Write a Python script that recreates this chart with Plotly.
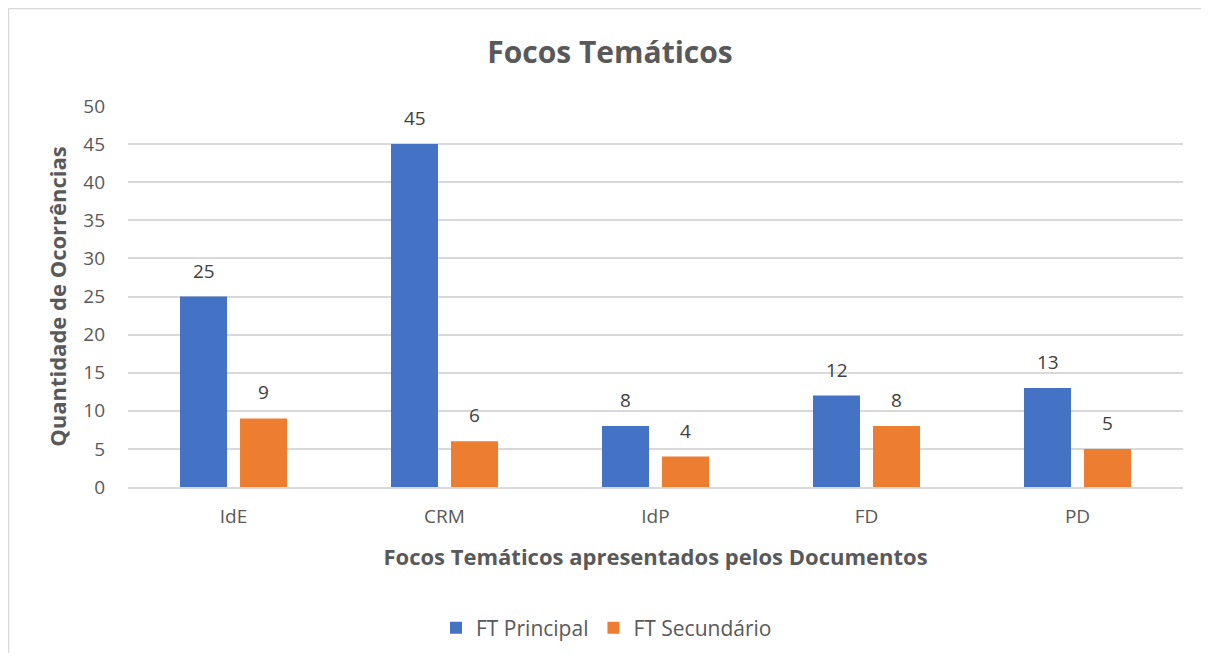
import plotly.graph_objects as go

categories = ["IdE", "CRM", "IdP", "FD", "PD"]
ft_principal = [25, 45, 8, 12, 13]
ft_secundario = [9, 6, 4, 8, 5]
series_names = ["FT Principal", "FT Secundário"]
colors = ["#4472C4", "#ED7D31"]
y_ticks = [0, 5, 10, 15, 20, 25, 30, 35, 40, 45, 50]

FONT = "Open Sans, Liberation Sans, sans-serif"
GRAY = "#595959"

OFF = 8  # page body margin
W, H = 1209 - 2 * OFF, 661 - 2 * OFF
L = 128 - OFF
R = W - (1183 - OFF)
T = 106 - OFF
B = H - (487 - OFF)
pw, ph = W - L - R, H - T - B

fig = go.Figure()
for name, vals, col in zip(series_names, [ft_principal, ft_secundario], colors):
    fig.add_trace(go.Bar(x=categories, y=vals, name=name, marker=dict(color=col, line=dict(width=0))))

annotations = []
for vals, shift in [(ft_principal, -30), (ft_secundario, 30)]:
    for c, v in zip(categories, vals):
        annotations.append(dict(x=c, y=v, xref="x", yref="y", text=str(v), showarrow=False,
                                xshift=shift, yshift=11, yanchor="bottom",
                                font=dict(family=FONT, size=19, color="#404040")))

def px_to_paper_x(px):
    return (px - OFF - L) / pw

def px_to_paper_y(py):
    return (H - B - (py - OFF)) / ph

border = dict(color="#d9d9d9", width=1.5)

fig.update_layout(
    width=W, height=H,
    margin=dict(l=L, r=R, t=T, b=B, autoexpand=False),
    paper_bgcolor="white", plot_bgcolor="white",
    title=dict(text="<b>Focos Temáticos</b>", x=px_to_paper_x(610), xref="paper", xanchor="center",
               y=1 - (52 - OFF) / H, yanchor="middle",
               font=dict(family=FONT, size=30, color=GRAY)),
    barmode="group", bargap=0.431, bargroupgap=0.217,
    font=dict(family=FONT, color=GRAY),
    xaxis=dict(showgrid=False, showline=True, linecolor="#d9d9d9", linewidth=1.5, ticks="",
               ticklabelstandoff=11,
               tickfont=dict(family=FONT, size=19, color=GRAY),
               title=dict(text="<b>Focos Temáticos apresentados pelos Documentos</b>", standoff=22,
                          font=dict(family=FONT, size=22, color=GRAY))),
    yaxis=dict(range=[0, 50], tickvals=y_ticks, showgrid=True, gridcolor="#d9d9d9", gridwidth=1.5,
               zeroline=False, showline=False, ticks="", ticklabelstandoff=22,
               tickfont=dict(family=FONT, size=19, color=GRAY),
               title=dict(text="<b>Quantidade de Ocorrências</b>", standoff=10,
                          font=dict(family=FONT, size=22, color=GRAY))),
    legend=dict(orientation="h", x=0.5 - 49 / pw, xanchor="center", y=px_to_paper_y(628), yanchor="middle",
                font=dict(family=FONT, size=21, color=GRAY), itemwidth=30, traceorder="normal"),
    annotations=annotations,
    shapes=[
        dict(type="line", xref="paper", yref="paper",
             x0=px_to_paper_x(OFF + 0.5), x1=px_to_paper_x(OFF + 0.5),
             y0=px_to_paper_y(700), y1=px_to_paper_y(OFF + 0.5), line=border, layer="below"),
        dict(type="line", xref="paper", yref="paper",
             x0=px_to_paper_x(OFF + 0.5), x1=px_to_paper_x(1260),
             y0=px_to_paper_y(OFF + 0.5), y1=px_to_paper_y(OFF + 0.5), line=border, layer="below"),
    ],
)

fig.write_html("out.html")
